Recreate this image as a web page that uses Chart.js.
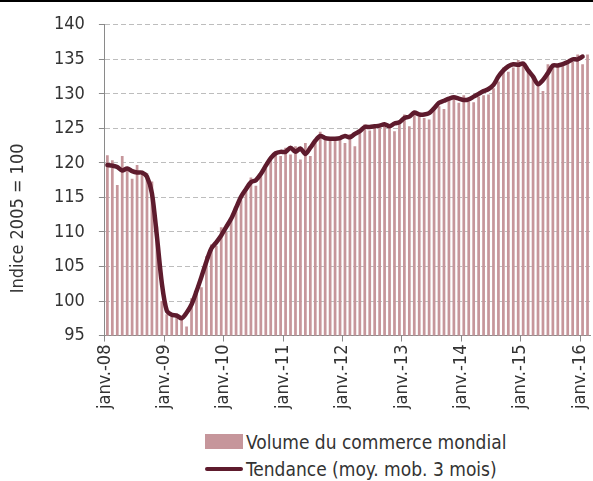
<!DOCTYPE html>
<html>
<head>
<meta charset="utf-8">
<script src="https://cdn.jsdelivr.net/npm/chart.js@4/dist/chart.umd.min.js"></script>
<style>
  body { margin: 0; background: #fff; }
  #wrap { position: relative; width: 593px; height: 481px; }
  #topline { position: absolute; left: 0; top: 0; width: 593px; height: 2px; background: #000; }
  #c { position: absolute; left: 0; top: 0; }
  #legend { position: absolute; left: 205px; top: 428px; font-family: "Liberation Sans Narrow", "DejaVu Sans Condensed", sans-serif; font-size: 19px; color: #333; }
  .item { display: flex; align-items: center; height: 27px; }
  .sw { width: 38px; margin-right: 3px; }
</style>
</head>
<body>
<div id="wrap">
  <canvas id="c" width="593" height="420"></canvas>
  <div id="topline"></div>
  <div id="legend"></div>
</div>
<script>
// monthly index, janv. 2008 -> févr. 2016
const tickLabels = ['janv.-08', 'janv.-09', 'janv.-10', 'janv.-11', 'janv.-12',
  'janv.-13', 'janv.-14', 'janv.-15', 'janv.-16'];

const volume = [
  121.1, 120.4, 116.8, 121.0, 119.3, 117.7, 119.7, 118.7, 118.5, 117.3, 110.8, 100.0,
  98.1, 97.8, 98.2, 97.6, 96.3, 100.4, 101.5, 102.0, 106.5, 108.2, 108.0, 110.7,
  110.0, 111.7, 113.7, 114.6, 116.2, 117.9, 116.7, 118.4, 119.6, 120.7, 121.4, 121.0,
  122.2, 121.2, 122.4, 120.5, 122.9, 121.0, 122.9, 124.5, 123.9, 123.7, 123.6, 123.6,
  122.9, 124.2, 122.4, 124.4, 125.6, 124.7, 125.1, 125.1, 125.5, 125.6, 124.6, 125.6,
  127.0, 125.3, 127.2, 126.7, 126.5, 126.3, 127.6, 128.2, 127.8, 129.5, 129.7, 128.7,
  129.8, 128.9, 128.8, 129.6, 129.8, 129.9, 130.8, 131.8, 133.8, 133.2, 133.8, 134.9,
  134.2, 133.2, 132.5, 131.2, 130.4, 134.3, 134.1, 134.2, 134.1, 134.5, 134.6, 135.7,
  134.3, 135.7
];

const trend = [
  119.7, 119.6, 119.4, 118.9, 119.2, 118.8, 118.6, 118.6, 118.0, 115.6, 109.4, 102.6,
  98.6, 98.0, 97.9, 97.5, 98.3, 99.5, 101.4, 103.5, 105.7, 107.6, 108.5, 109.5,
  110.7, 111.9, 113.5, 115.1, 116.2, 117.2, 117.5, 118.4, 119.6, 120.7, 121.4, 121.6,
  121.6, 122.2, 121.6, 122.1, 121.3, 122.2, 123.2, 123.9, 123.6, 123.5, 123.5, 123.6,
  123.9, 123.7, 124.2, 124.6, 125.2, 125.2, 125.3, 125.4, 125.6, 125.3, 125.7, 125.9,
  126.5, 126.7, 127.3, 127.0, 127.0, 127.2, 127.9, 128.7, 129.0, 129.3, 129.5, 129.3,
  129.1, 129.2, 129.6, 130.0, 130.4, 130.7, 131.3, 132.5, 133.4, 134.0, 134.3, 134.2,
  134.4, 133.4, 132.5, 131.4, 132.0, 133.0, 134.1, 134.1, 134.3, 134.6, 135.0, 135.0,
  135.4, null
];

const yTitle = 'Indice 2005 = 100';
const barColor = '#c6969b';
const lineColor = '#5e1b2d';
const fontFamily = '"Liberation Sans Narrow", "DejaVu Sans Condensed", sans-serif';

Chart.defaults.font.family = fontFamily;
Chart.defaults.color = '#333';

// y title centred between plot top and bottom of the x labels
const yTitlePlugin = {
  id: 'yTitle',
  afterDraw(chart) {
    const ctx = chart.ctx;
    const area = chart.chartArea;
    const midY = (area.top + chart.scales.x.bottom) / 2;
    ctx.save();
    ctx.translate(18, midY);
    ctx.rotate(-Math.PI / 2);
    ctx.font = '18px ' + fontFamily;
    ctx.fillStyle = '#333';
    ctx.textAlign = 'center';
    ctx.textBaseline = 'middle';
    ctx.fillText(yTitle, 0, 0);
    ctx.restore();
  }
};

const chart = new Chart(document.getElementById('c'), {
  type: 'bar',
  data: {
    datasets: [{
      type: 'line',
      label: 'Tendance (moy. mob. 3 mois)',
      data: trend.map((v, i) => ({ x: i + 0.5, y: v })),
      borderColor: lineColor,
      borderWidth: 4.5,
      pointRadius: 0,
      tension: 0.3,
      borderCapStyle: 'round',
      borderJoinStyle: 'round',
      order: 0
    }, {
      label: 'Volume du commerce mondial',
      data: volume.map((v, i) => ({ x: i + 0.5, y: v })),
      backgroundColor: barColor,
      categoryPercentage: 1,
      barPercentage: 0.55,
      order: 1
    }]
  },
  options: {
    responsive: false,
    animation: false,
    layout: { padding: { left: 40, right: 3, top: 9, bottom: 8 } },
    plugins: {
      legend: { display: false },
      tooltip: { enabled: false }
    },
    scales: {
      x: {
        type: 'linear',
        min: 0,
        max: volume.length,
        offset: false,
        grid: { drawOnChartArea: false, offset: false, tickLength: 6, color: '#8a8a8a' },
        border: { color: '#8a8a8a' },
        afterBuildTicks: scale => {
          scale.ticks = tickLabels.map((_, k) => ({ value: k * 12 }));
        },
        // the last label sits two months in, no need to reserve room past the plot
        afterFit: scale => { scale.paddingRight = 0; },
        ticks: {
          autoSkip: false,
          maxRotation: 90,
          minRotation: 90,
          padding: 3,
          font: { size: 18 },
          callback: v => tickLabels[v / 12] || ''
        }
      },
      y: {
        min: 95,
        max: 140,
        grid: { color: '#bdbdbd', tickColor: '#8a8a8a', tickLength: 6 },
        border: { color: '#8a8a8a', dash: [5, 3] },
        ticks: { stepSize: 5, padding: 14, font: { size: 18 } }
      }
    }
  },
  plugins: [yTitlePlugin]
});

// legend built from the chart's own datasets
const legend = document.getElementById('legend');
[chart.data.datasets[1], chart.data.datasets[0]].forEach(ds => {
  const row = document.createElement('div');
  row.className = 'item';
  const sw = document.createElement('span');
  sw.className = 'sw';
  if (ds.type === 'line') {
    sw.style.height = '4px';
    sw.style.borderRadius = '2px';
    sw.style.background = ds.borderColor;
  } else {
    sw.style.height = '15px';
    sw.style.background = ds.backgroundColor;
  }
  const txt = document.createElement('span');
  txt.textContent = ds.label;
  row.appendChild(sw);
  row.appendChild(txt);
  legend.appendChild(row);
});
</script>
</body>
</html>
